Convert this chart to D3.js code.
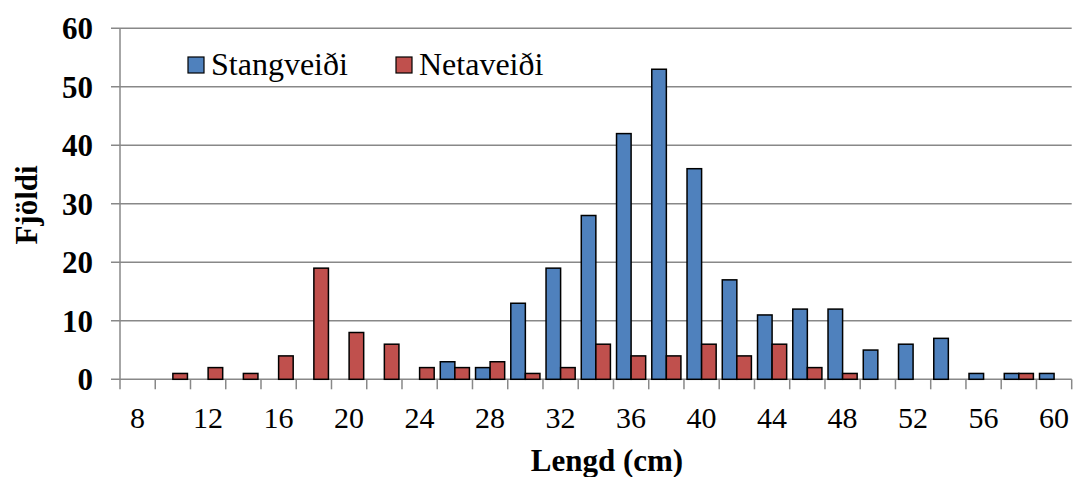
<!DOCTYPE html>
<html>
<head>
<meta charset="utf-8">
<script src="https://cdn.jsdelivr.net/npm/d3@7"></script>
<style>
  body { margin: 0; background: #fff; }
  svg text { font-family: "Times New Roman", "Liberation Serif", Times, serif; fill: #000; }
</style>
</head>
<body>
<div id="chart"></div>
<script>
// lengdarflokkar (cm)
let lengths = [8, 10, 12, 14, 16, 18, 20, 22, 24, 26, 28, 30, 32, 34, 36, 38, 40, 42, 44, 46, 48, 50, 52, 54, 56, 58, 60]
let stangveidi = [0, 0, 0, 0, 0, 0, 0, 0, 0, 3, 2, 13, 19, 28, 42, 53, 36, 17, 11, 12, 12, 5, 6, 7, 1, 1, 1]
let netaveidi = [0, 1, 2, 1, 4, 19, 8, 6, 2, 2, 3, 1, 2, 6, 4, 4, 6, 4, 6, 2, 1, 0, 0, 0, 0, 1, 0]
let seriesNames = ["Stangveiði", "Netaveiði"]
let colors = ["#4F81BD", "#C0504D"]
let yTicks = [0, 10, 20, 30, 40, 50, 60]

let width = 1075, height = 477
let margin = { left: 120, right: 3.3, top: 28.3, bottom: 97.7 }
let serif = '"Times New Roman", "Liberation Serif", Times, serif'
let svg = d3.select("#chart").append("svg")
    .attr("width", width)
    .attr("height", height)

let x0 = d3.scaleBand()
    .domain(lengths)
    .range([margin.left, width - margin.right])
let x1 = d3.scaleBand()
    .domain(seriesNames)
    .range([0, x0.bandwidth()])
    .paddingOuter(0.21)
let y = d3.scaleLinear()
    .domain([0, 60])
    .range([height - margin.bottom, margin.top])

let gridColor = "#888888"

//gridlines + y ticks
svg.append("g")
    .selectAll("line")
    .data(yTicks)
    .enter()
    .append("line")
    .attr("x1", margin.left - 9)
    .attr("x2", width - margin.right)
    .attr("y1", d => y(d))
    .attr("y2", d => y(d))
    .attr("stroke", gridColor)
    .attr("stroke-width", 1.5)

svg.append("g")
    .selectAll("text")
    .data(yTicks)
    .enter()
    .append("text")
    .attr("x", 93)
    .attr("y", d => y(d))
    .attr("dy", "0.35em")
    .attr("text-anchor", "end")
    .attr("font-family", serif)
    .attr("font-size", 31)
    .attr("font-weight", "bold")
    .text(d => d)

//y axis line
svg.append("line")
    .attr("x1", margin.left).attr("x2", margin.left)
    .attr("y1", y(60)).attr("y2", y(0))
    .attr("stroke", gridColor)
    .attr("stroke-width", 1.5)

//x ticks at category boundaries
let boundaries = lengths.map(d => x0(d)).concat([x0.range()[1]])
svg.append("g")
    .selectAll("line")
    .data(boundaries)
    .enter()
    .append("line")
    .attr("x1", d => d).attr("x2", d => d)
    .attr("y1", y(0)).attr("y2", y(0) + 10)
    .attr("stroke", gridColor)
    .attr("stroke-width", 1.5)

svg.append("g")
    .selectAll("text")
    .data(lengths.filter((d, i) => i % 2 == 0))
    .enter()
    .append("text")
    .attr("x", d => x0(d) + x0.bandwidth() / 2)
    .attr("y", 428)
    .attr("text-anchor", "middle")
    .attr("font-family", serif)
    .attr("font-size", 30)
    .text(d => d)

//bars
let series = [stangveidi, netaveidi]
series.forEach((values, si) => {
    let rows = values.map((v, i) => ({ len: lengths[i], v: v })).filter(d => d.v > 0)
    svg.append("g")
        .selectAll("rect")
        .data(rows)
        .enter()
        .append("rect")
        .attr("x", d => x0(d.len) + x1(seriesNames[si]))
        .attr("width", x1.bandwidth())
        .attr("y", d => y(d.v))
        .attr("height", d => y(0) - y(d.v))
        .attr("fill", colors[si])
        .attr("stroke", "#000")
        .attr("stroke-width", 1.5)
})

//axis titles
svg.append("text")
    .attr("x", 607)
    .attr("y", 471)
    .attr("text-anchor", "middle")
    .attr("font-family", serif)
    .attr("font-size", 31)
    .attr("font-weight", "bold")
    .text("Lengd (cm)")

svg.append("text")
    .attr("transform", "translate(37,205) rotate(-90)")
    .attr("text-anchor", "middle")
    .attr("font-family", serif)
    .attr("font-size", 31)
    .attr("font-weight", "bold")
    .text("Fjöldi")

//legend
let legendX = [188, 396]
seriesNames.forEach((name, i) => {
    let g = svg.append("g").attr("transform", `translate(${legendX[i]},57)`)
    g.append("rect")
        .attr("width", 16)
        .attr("height", 16)
        .attr("fill", colors[i])
        .attr("stroke", "#000")
        .attr("stroke-width", 1.2)
    g.append("text")
        .attr("x", 23)
        .attr("y", 18)
        .attr("font-family", serif)
        .attr("font-size", 32)
        .text(name)
})
</script>
</body>
</html>
